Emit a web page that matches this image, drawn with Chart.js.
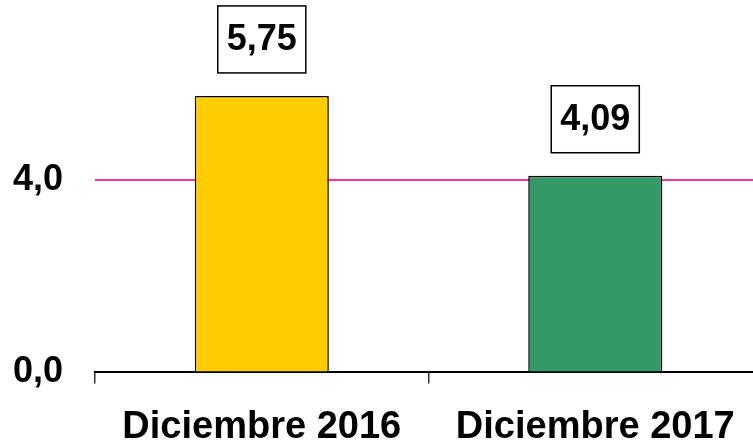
<!DOCTYPE html>
<html>
<head>
<meta charset="utf-8">
<script src="https://cdn.jsdelivr.net/npm/chart.js@4/dist/chart.umd.min.js"></script>
<style>
  html, body { margin: 0; padding: 0; background: #fff; }
  #wrap { width: 753px; height: 444px; overflow: hidden; position: relative; }
  canvas { display: block; }
</style>
</head>
<body>
<div id="wrap"><canvas id="c" width="762" height="471"></canvas></div>
<script>
const categories = ["Diciembre 2016", "Diciembre 2017"];
const values = [5.75, 4.09];
const yTickValues = [0, 4];
const referenceValue = 4;

const barColors = ["#FFCC00", "#339966"];
const FONT = "'Liberation Sans', Arial, Helvetica, sans-serif";

const fmt = (v, d) => v.toFixed(d).replace('.', ',');

const boxLabels = {
  id: 'boxLabels',
  afterDatasetsDraw(chart) {
    const ctx = chart.ctx;
    const meta = chart.getDatasetMeta(0);
    ctx.save();
    ctx.font = "bold 36px " + FONT;
    ctx.textAlign = 'center';
    ctx.textBaseline = 'middle';
    meta.data.forEach((bar, i) => {
      const txt = fmt(values[i], 2);
      const w = ctx.measureText(txt).width + 18;
      const h = 67;
      const bottom = bar.y - 23;
      const cx = bar.x;
      ctx.fillStyle = '#fff';
      ctx.fillRect(cx - w / 2, bottom - h, w, h);
      ctx.strokeStyle = '#000';
      ctx.lineWidth = 1.5;
      ctx.strokeRect(cx - w / 2, bottom - h, w, h);
      ctx.fillStyle = '#000';
      ctx.fillText(txt, cx, bottom - h / 2 + 1);
    });
    ctx.restore();
  }
};

new Chart(document.getElementById('c'), {
  type: 'bar',
  data: {
    labels: categories,
    datasets: [{
      data: values,
      backgroundColor: barColors,
      borderColor: '#000',
      borderWidth: 1.5,
      barPercentage: 0.402,
      categoryPercentage: 1.0
    }]
  },
  options: {
    responsive: false,
    animation: false,
    devicePixelRatio: 1,
    layout: { padding: { top: 0, left: -19, right: 0, bottom: 0 } },
    plugins: { legend: { display: false }, tooltip: { enabled: false } },
    scales: {
      x: {
        offset: true,
        border: { display: true, color: '#000', width: 2 },
        grid: {
          display: true,
          offset: true,
          drawOnChartArea: false,
          drawTicks: true,
          tickLength: 11,
          color: '#333',
          lineWidth: 1.5
        },
        ticks: {
          color: '#000',
          padding: 21,
          font: { family: FONT, size: 38, weight: 'bold', lineHeight: 1.2 },
          maxRotation: 0,
          autoSkip: false
        }
      },
      y: {
        min: 0,
        max: 6.63,
        border: { display: false },
        afterBuildTicks: (scale) => { scale.ticks = yTickValues.map(v => ({ value: v })); },
        grid: {
          drawTicks: false,
          color: (c) => (c.tick && c.tick.value === referenceValue) ? '#FF3399' : 'rgba(0,0,0,0)',
          lineWidth: 2
        },
        ticks: {
          color: '#000',
          padding: 32,
          font: { family: FONT, size: 36, weight: 'bold', lineHeight: 1.2 },
          callback: (v) => fmt(v, 1)
        }
      }
    }
  },
  plugins: [boxLabels]
});
</script>
</body>
</html>
